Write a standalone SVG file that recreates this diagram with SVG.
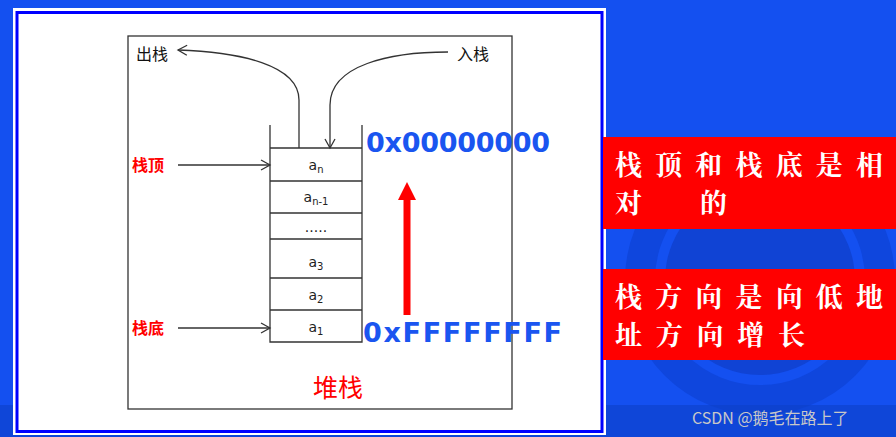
<svg xmlns="http://www.w3.org/2000/svg" width="896" height="437" viewBox="0 0 896 437">
<style>
.ln{stroke:#333;stroke-width:1.3;fill:none}
.cell{font-family:"DejaVu Sans",sans-serif;font-size:14px;fill:#222;text-anchor:middle}
.sub{font-size:10px}
.cn{font-family:"Noto Sans CJK SC",sans-serif;font-size:16px;fill:#111}
.lbl{font-family:"Noto Sans CJK SC",sans-serif;font-size:16px;font-weight:bold;fill:#f00}
.hex{font-family:"DejaVu Sans",sans-serif;font-size:27px;font-weight:bold;fill:#1a55f0}
.note{font-family:"Noto Serif CJK SC","Noto Sans CJK SC",serif;font-size:27px;font-weight:bold;fill:#fff}
</style>
<defs>
<marker id="ah" markerWidth="12" markerHeight="12" refX="10" refY="6" orient="auto" markerUnits="userSpaceOnUse"><path d="M1,1 L10,6 L1,11" fill="none" stroke="#333" stroke-width="1.3"/></marker>
<marker id="rh" markerWidth="20" markerHeight="20" refX="4" refY="10" orient="auto" markerUnits="userSpaceOnUse"><path d="M0,1 L18,10 L0,19 Z" fill="#f00"/></marker>
</defs>
<rect width="896" height="437" fill="#1450f0"/>
<g id="bg" fill="none" stroke="#0c3fd0">
<circle cx="760" cy="280" r="120" stroke-width="30" opacity="0.6"/>
<circle cx="760" cy="280" r="95" fill="#0b35b8" stroke="none" opacity="0.5"/>
</g>
<rect x="0" y="405" width="896" height="32" fill="#0c40c8" opacity="0.6"/>
<rect x="13" y="8" width="593" height="427" fill="#fff"/>
<rect x="17" y="12.5" width="585" height="419" fill="none" stroke="#0000ff" stroke-width="3"/>
<rect x="128" y="36" width="384" height="373" fill="none" stroke="#333" stroke-width="1.3"/>
<g id="stack">
<path class="ln" d="M270,125 V342 H362 V125"/>
<path class="ln" d="M270,148 H362 M270,181 H362 M270,213 H362 M270,239 H362 M270,278 H362 M270,310 H362"/>
<text class="cell" x="316" y="170">a<tspan class="sub" dy="3">n</tspan></text>
<text class="cell" x="316" y="202">a<tspan class="sub" dy="3">n-1</tspan></text>
<text class="cell" x="316" y="232">.....</text>
<text class="cell" x="316" y="267">a<tspan class="sub" dy="3">3</tspan></text>
<text class="cell" x="316" y="300">a<tspan class="sub" dy="3">2</tspan></text>
<text class="cell" x="316" y="332">a<tspan class="sub" dy="3">1</tspan></text>
</g>
<g id="labels">
<text class="cn" x="136" y="60">出栈</text>
<text class="cn" x="457" y="60">入栈</text>
<text class="lbl" x="132" y="171">栈顶</text>
<text class="lbl" x="132" y="334">栈底</text>
<text class="hex" x="366" y="152" textLength="184">0x00000000</text>
<text class="hex" x="363" y="342" textLength="199">0xFFFFFFFF</text>
<text x="313" y="397" font-family="Noto Sans CJK SC,sans-serif" font-size="25" fill="#f00">堆栈</text>
</g>
<g id="connectors">
<path class="ln" d="M299,148 V100 C299,65 240,52 178,50" marker-end="url(#ah)"/>
<path class="ln" d="M448,52 C390,52 330,65 330,105 V148" marker-end="url(#ah)"/>
<path class="ln" d="M178,165 H270" marker-end="url(#ah)"/>
<path class="ln" d="M178,328 H270" marker-end="url(#ah)"/>
<path d="M407,315 V196" stroke="#f00" stroke-width="7" marker-end="url(#rh)"/>
</g>
<g id="note1">
<rect x="603" y="137" width="293" height="92" fill="#f00"/>
<text class="note" x="615" y="175" textLength="268">栈顶和栈底是相</text>
<text class="note" x="615" y="213" textLength="112">对的</text>
</g>
<g id="note2">
<rect x="603" y="269" width="293" height="91" fill="#f00"/>
<text class="note" x="615" y="307" textLength="268">栈方向是向低地</text>
<text class="note" x="615" y="345" textLength="190">址方向增长</text>
</g>
<text x="692" y="424" font-family="Noto Sans CJK SC,sans-serif" font-size="16" fill="#c8c8c8">CSDN @鹅毛在路上了</text>
</svg>
